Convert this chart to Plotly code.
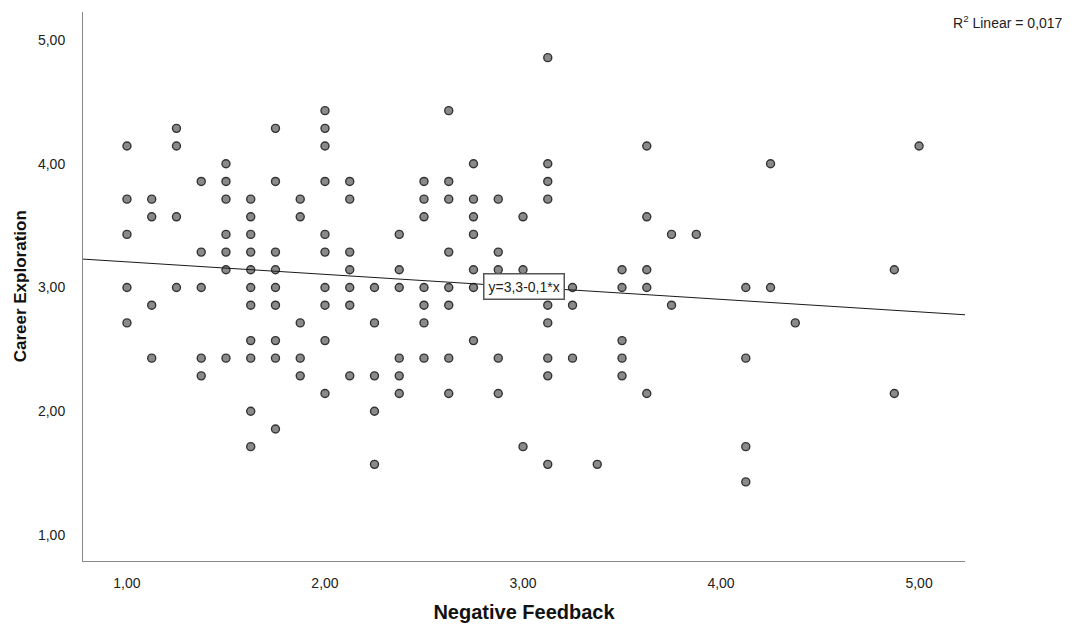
import plotly.graph_objects as go

# x value -> list of Career Exploration values (y values are multiples of 1/7)
neg_feedback_cols = {
    1.000: [4.143, 3.714, 3.429, 3.000, 2.714],
    1.125: [3.714, 3.571, 2.857, 2.429],
    1.250: [4.286, 4.143, 3.571, 3.000],
    1.375: [3.857, 3.286, 3.000, 2.429, 2.286],
    1.500: [4.000, 3.857, 3.714, 3.429, 3.286, 3.143, 2.429],
    1.625: [3.714, 3.571, 3.429, 3.286, 3.143, 3.000, 2.857, 2.571, 2.429, 2.000, 1.714],
    1.750: [4.286, 3.857, 3.286, 3.143, 3.000, 2.857, 2.571, 2.429, 1.857],
    1.875: [3.714, 3.571, 2.714, 2.429, 2.286],
    2.000: [4.429, 4.286, 4.143, 3.857, 3.429, 3.286, 3.000, 2.857, 2.571, 2.143],
    2.125: [3.857, 3.714, 3.286, 3.143, 3.000, 2.857, 2.286],
    2.250: [3.000, 2.714, 2.286, 2.000, 1.571],
    2.375: [3.429, 3.143, 3.000, 2.429, 2.286, 2.143],
    2.500: [3.857, 3.714, 3.571, 3.000, 2.857, 2.714, 2.429],
    2.625: [4.429, 3.857, 3.714, 3.286, 3.000, 2.857, 2.429, 2.143],
    2.750: [4.000, 3.714, 3.571, 3.429, 3.143, 3.000, 2.571],
    2.875: [3.714, 3.286, 3.143, 2.429, 2.143],
    3.000: [3.571, 3.143, 1.714],
    3.125: [4.857, 4.000, 3.857, 3.714, 2.857, 2.714, 2.429, 2.286, 1.571],
    3.250: [3.000, 2.857, 2.429],
    3.375: [1.571],
    3.500: [3.143, 3.000, 2.571, 2.429, 2.286],
    3.625: [4.143, 3.571, 3.143, 3.000, 2.143],
    3.750: [3.429, 2.857],
    3.875: [3.429],
    4.125: [3.000, 2.429, 1.714, 1.429],
    4.250: [4.000, 3.000],
    4.375: [2.714],
    4.875: [3.143, 2.143],
    5.000: [4.143],
}

negative_feedback = [x for x, ys in neg_feedback_cols.items() for _ in ys]
career_exploration = [y for ys in neg_feedback_cols.values() for y in ys]

fit_intercept = 3.308
fit_slope = -0.101
r2_text = "R<sup>2</sup> Linear = 0,017"
eq_text = "y=3,3-0,1*x"
x_title = "Negative Feedback"
y_title = "Career Exploration"

tick_vals = [1, 2, 3, 4, 5]
tick_text = ["1,00", "2,00", "3,00", "4,00", "5,00"]

x_range = [0.778, 5.232]
y_range = [0.79, 5.226]

font_family = "Liberation Sans, Arial, sans-serif"

fig = go.Figure()
fig.add_trace(go.Scatter(
    x=negative_feedback, y=career_exploration, mode="markers",
    marker=dict(size=8, color="#8a8a8a", line=dict(color="#333333", width=1.4)),
    showlegend=False, hoverinfo="x+y",
))
fig.add_trace(go.Scatter(
    x=x_range, y=[fit_intercept + fit_slope * v for v in x_range], mode="lines",
    line=dict(color="#1a1a1a", width=1), showlegend=False, hoverinfo="skip",
))

eq_x = 3.005
fig.add_annotation(
    x=eq_x, y=fit_intercept + fit_slope * eq_x, text=eq_text, showarrow=False,
    font=dict(family=font_family, size=14, color="#222222"),
    bgcolor="white", bordercolor="#555555", borderwidth=1.5, borderpad=4,
)
fig.add_annotation(
    xref="paper", yref="paper", x=1.113, y=0.982, xanchor="right", yanchor="middle",
    text=r2_text, showarrow=False,
    font=dict(family=font_family, size=14, color="#222222"),
)
fig.add_annotation(
    xref="paper", yref="paper", x=-0.0705, y=0.5, xanchor="center", yanchor="middle",
    text="<b>" + y_title + "</b>", textangle=-90, showarrow=False,
    font=dict(family=font_family, size=17, color="#111111"),
)

# the page body has an 8px margin, so the figure is sized to fit the window
fig.update_layout(
    width=1067, height=618,
    margin=dict(l=75, r=110, t=4, b=65),
    plot_bgcolor="white", paper_bgcolor="white",
    font=dict(family=font_family, size=14, color="#222222"),
    xaxis=dict(
        range=x_range, tickvals=tick_vals, ticktext=tick_text, automargin=False,
        showgrid=False, zeroline=False, showline=True, linecolor="#888888", linewidth=1,
        ticks="", ticklabelstandoff=9, tickfont=dict(size=14),
        title=dict(text="<b>" + x_title + "</b>", font=dict(size=20, color="#111111")),
    ),
    yaxis=dict(
        range=y_range, tickvals=tick_vals, ticktext=tick_text, automargin=False,
        showgrid=False, zeroline=False, showline=True, linecolor="#888888", linewidth=1,
        ticks="", ticklabelstandoff=14, tickfont=dict(size=14),
    ),
)

fig.write_html("out.html")
